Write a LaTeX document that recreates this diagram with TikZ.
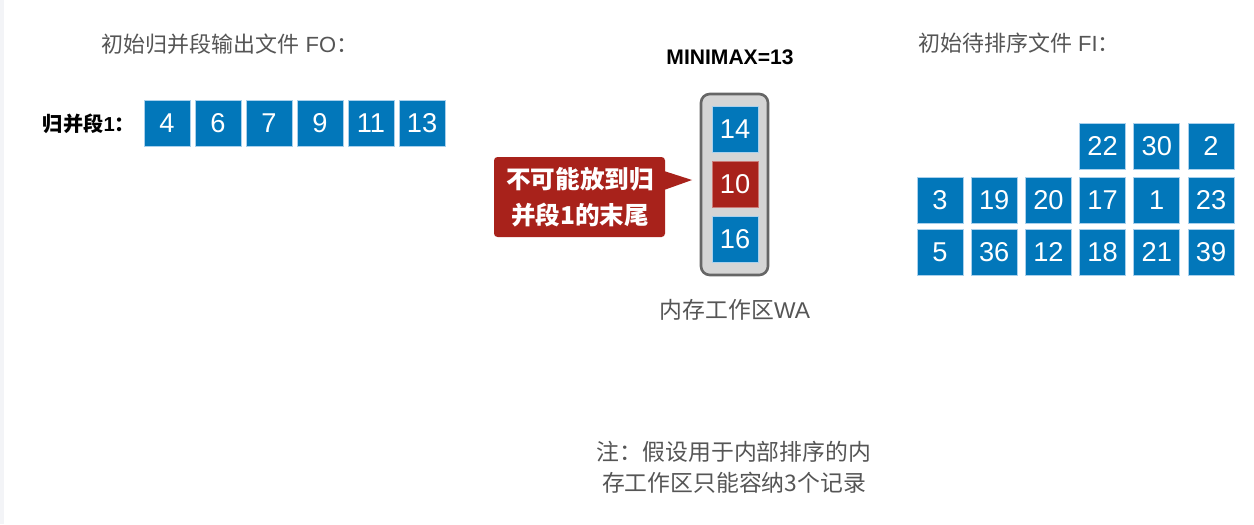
\documentclass[tikz,border=0pt]{standalone}
\usepackage{fontspec}
\setmainfont{Liberation Sans}
\newfontfamily\cjk{Noto Sans CJK SC}
\definecolor{boxblue}{HTML}{0277BA}
\definecolor{boxedge}{HTML}{A9D0EC}
\definecolor{calred}{HTML}{A8221B}
\definecolor{txtgray}{HTML}{555555}
\definecolor{memfill}{HTML}{D5D5D5}
\definecolor{memedge}{HTML}{666666}
\definecolor{strip}{HTML}{F3F4F7}
\tikzset{
  num/.style={draw=boxedge, line width=0.4pt, fill=boxblue, minimum width=46*0.02cm, minimum height=46*0.02cm, inner sep=0pt, text=white, font=\fontsize{15.5}{17}\selectfont},
  rednum/.style={num, fill=calred, draw=calred!60},
  title/.style={text=txtgray, font=\fontsize{12.5}{15}\selectfont, inner sep=0pt},
}
\begin{document}
\begin{tikzpicture}[x=0.02cm, y=-0.02cm]
\useasboundingbox (0,0) rectangle (1254,524);
\fill[white] (0,0) rectangle (1254,524);
\fill[strip] (0,0) rectangle (4,524);

% FO
\node[title] (fot) at (230,44) {{\cjk 初始归并段输出文件} FO{\cjk ：}};
\node[inner sep=0pt, font=\fontsize{11.5}{13}\selectfont\bfseries] (seg) at (89,124) {{\cjk 归并段}1{\cjk ：}};
\foreach \v [count=\i from 0] in {4,6,7,9,11,13}
  \node[num] (fo\i) at (167+51*\i,123) {\v};

% memory
\node[inner sep=0pt, font=\fontsize{12}{14}\selectfont\bfseries] (mm) at (730,57) {MINIMAX=13};
\draw[memedge, fill=memfill, line width=1.5pt, rounded corners=5pt] (701,94) rectangle (768,275);
\node[num] (w1) at (735,129) {14};
\node[rednum] (w2) at (735,184) {10};
\node[num] (w3) at (735,239) {16};
\node[title, font=\fontsize{13}{15}\selectfont] (wa) at (735,310) {{\cjk 内存工作区}WA};

% callout
\fill[calred, rounded corners=2pt] (494,157) rectangle (665,237);
\fill[calred] (664,171) -- (692,180) -- (664,190) -- cycle;
\node[text=white, inner sep=0pt, align=center, font=\fontsize{14}{20.5}\selectfont\bfseries\cjk] (cal) at (580,197) {不可能放到归\\并段1的末尾};

% FI
\node[title, anchor=west] (fit) at (918,43) {{\cjk 初始待排序文件} FI{\cjk ：}};
\foreach \v [count=\i from 3] in {22,30,2}
  \node[num] (fa\i) at (940+54.2*\i,146) {\v};
\foreach \v [count=\i from 0] in {3,19,20,17,1,23}
  \node[num] (fb\i) at (940+54.2*\i,200) {\v};
\foreach \v [count=\i from 0] in {5,36,12,18,21,39}
  \node[num] (fc\i) at (940+54.2*\i,252) {\v};

% note
\node[title, align=center, font=\fontsize{13}{17.5}\selectfont\cjk] (note) at (734,467) {注：假设用于内部排序的内\\存工作区只能容纳3个记录};
\end{tikzpicture}
\end{document}
